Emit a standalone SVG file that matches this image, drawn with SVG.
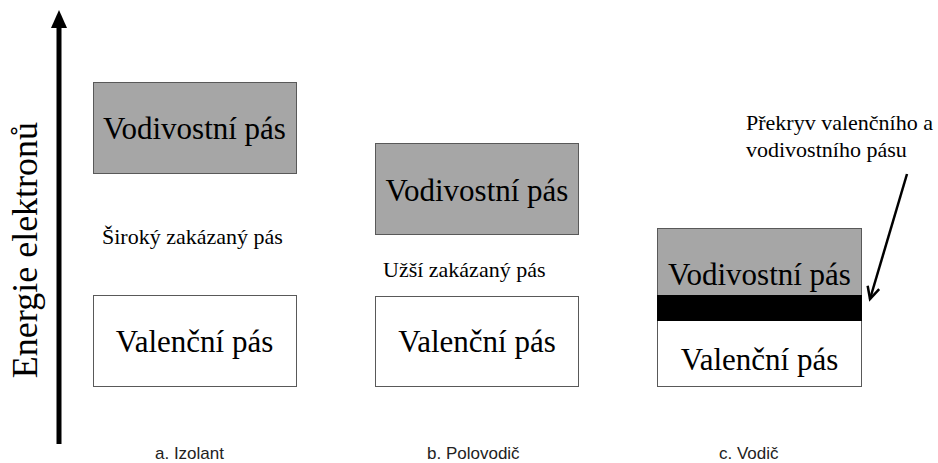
<svg xmlns="http://www.w3.org/2000/svg" width="938" height="463" viewBox="0 0 938 463">
<style>
.band{stroke:#595959;stroke-width:1}
.cb{fill:#a6a6a6}
.vb{fill:#ffffff}
.serif{font-family:'Liberation Serif','Times New Roman',serif;fill:#000}
.big{font-size:31px;text-anchor:middle}
.mid{font-size:22px}
.cap{font-family:'Liberation Sans',Arial,sans-serif;font-size:17px;fill:#222}
</style>
<defs>
<marker id="open" markerWidth="16" markerHeight="16" refX="13" refY="8" orient="auto" markerUnits="userSpaceOnUse">
<path d="M1,2 L13,8 L1,14" fill="none" stroke="#000" stroke-width="2.5"/>
</marker>
</defs>
<rect width="938" height="463" fill="#fff"/>
<g id="axis">
<line x1="59" y1="444" x2="59" y2="26" stroke="#000" stroke-width="5"/>
<polygon points="59,10 67,28 51,28" fill="#000"/>
<text class="serif" transform="translate(37,250) rotate(-90)" font-size="36" text-anchor="middle">Energie elektronů</text>
</g>
<g id="a-conduction">
<rect class="band cb" x="93.5" y="82.5" width="203" height="91"/>
<text class="serif big" x="194.5" y="139">Vodivostní pás</text>
</g>
<g id="a-gap"><text class="serif mid" x="102" y="244">Široký zakázaný pás</text></g>
<g id="a-valence">
<rect class="band vb" x="93.5" y="295.5" width="203" height="91"/>
<text class="serif big" x="194.5" y="352">Valenční pás</text>
</g>
<g id="b-conduction">
<rect class="band cb" x="375.5" y="143.5" width="203" height="91"/>
<text class="serif big" x="477" y="201">Vodivostní pás</text>
</g>
<g id="b-gap"><text class="serif mid" x="383" y="277">Užší zakázaný pás</text></g>
<g id="b-valence">
<rect class="band vb" x="375.5" y="296.5" width="203" height="90"/>
<text class="serif big" x="477" y="352">Valenční pás</text>
</g>
<g id="c-bands">
<rect class="band vb" x="657.5" y="228.5" width="204" height="158"/>
<rect x="658" y="229" width="203" height="66" fill="#a6a6a6"/>
<rect x="657" y="295" width="205" height="26" fill="#000"/>
<text class="serif big" x="759.5" y="285">Vodivostní pás</text>
<text class="serif big" x="759.5" y="370">Valenční pás</text>
</g>
<g id="overlap-note">
<text class="serif mid" x="746" y="130">Překryv valenčního a</text>
<text class="serif mid" x="746" y="157">vodivostního pásu</text>
</g>
<g id="connectors">
<line x1="907" y1="174" x2="870" y2="299" stroke="#000" stroke-width="2.5" marker-end="url(#open)"/>
</g>
<g id="labels">
<text class="cap" x="155" y="459">a. Izolant</text>
<text class="cap" x="427" y="459">b. Polovodič</text>
<text class="cap" x="719" y="459">c. Vodič</text>
</g>
</svg>
